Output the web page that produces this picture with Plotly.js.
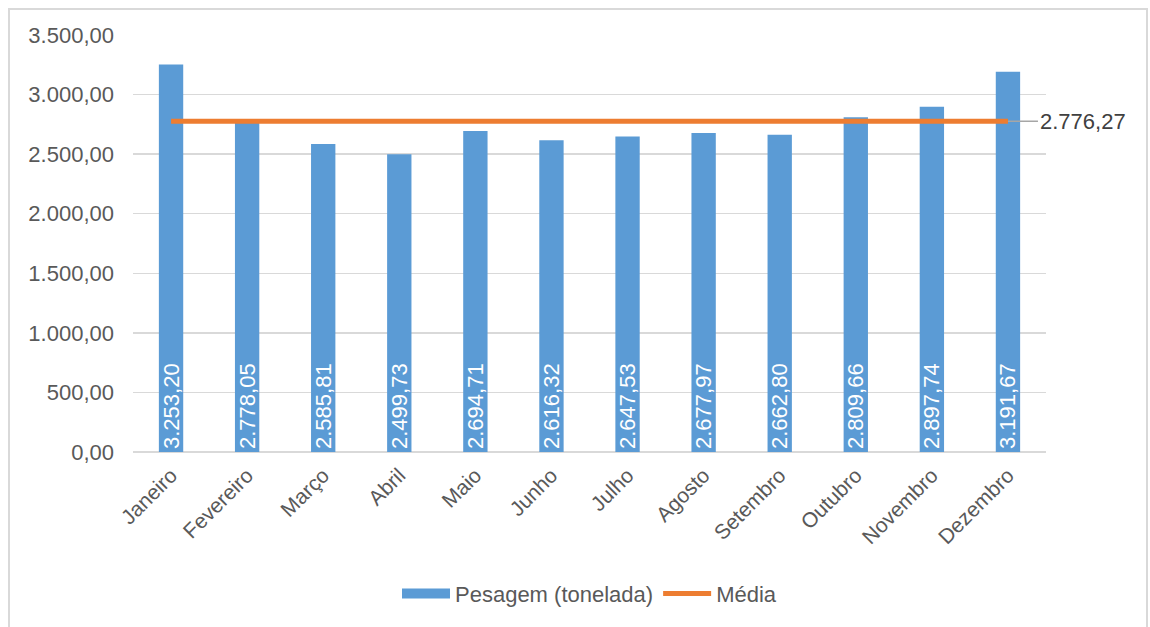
<!DOCTYPE html>
<html><head><meta charset="utf-8">
<script src="https://cdn.plot.ly/plotly-3.0.1.min.js"></script>
<style>html,body{margin:0;padding:0;background:#fff;}#wrap{position:relative;width:1150px;height:627px;}#chart{width:1150px;height:627px;}#frame{position:absolute;left:8px;top:8px;width:1140px;height:625px;border:2px solid #d9d9d9;pointer-events:none;box-sizing:border-box;}</style>
</head><body>
<div id="wrap"><div id="chart"></div><div id="frame"></div></div>
<script>
const months = ["Janeiro","Fevereiro","Março","Abril","Maio","Junho","Julho","Agosto","Setembro","Outubro","Novembro","Dezembro"];
const pesagem = [3253.20,2778.05,2585.81,2499.73,2694.71,2616.32,2647.53,2677.97,2662.80,2809.66,2897.74,3191.67];
const media = [2776.27,2776.27,2776.27,2776.27,2776.27,2776.27,2776.27,2776.27,2776.27,2776.27,2776.27,2776.27];
const mediaLabel = "2.776,27";
const yTicks = [0,500,1000,1500,2000,2500,3000,3500];

const font = "Liberation Sans, Arial, sans-serif";
const data = [
  {type:'bar', name:'Pesagem (tonelada)', x:months, y:pesagem, showlegend:false,
   marker:{color:'#5b9bd5'},
   texttemplate:'%{y:,.2f}', textposition:'inside', insidetextanchor:'start', textangle:-90, constraintext:'none',
   insidetextfont:{family:font, size:22, color:'#ffffff'}, hoverinfo:'x+y'},
  {type:'scatter', mode:'lines', name:'Pesagem (tonelada)', x:[months[0]], y:[null],
   line:{color:'#5b9bd5', width:11}, hoverinfo:'skip'},
  {type:'scatter', mode:'lines', name:'Média', x:months, y:media,
   line:{color:'#ed7d31', width:5}}
];
const layout = {
  width:1150, height:627,
  margin:{l:133, r:104, t:35, b:172},
  separators:',.',
  bargap:0.68,
  font:{family:font, color:'#595959', size:21},
  paper_bgcolor:'#ffffff', plot_bgcolor:'#ffffff',
  xaxis:{type:'category', range:[-0.5, 11.5], tickangle:-45, tickfont:{size:21, color:'#595959'}, ticklabelstandoff:6, showgrid:false, showline:false, ticks:'', automargin:false},
  yaxis:{range:[0,3500], tickvals:yTicks, tickformat:',.2f', tickfont:{size:22, color:'#595959'}, ticklabelstandoff:18,
         gridcolor:'#d9d9d9', gridwidth:1.5, zeroline:true, zerolinecolor:'#d9d9d9', zerolinewidth:1.5, showline:false, ticks:'', ticklen:0, automargin:false},
  showlegend:true,
  legend:{orientation:'h', x:0.5, xanchor:'center', y:-0.34, yanchor:'middle', font:{size:22, color:'#595959'}, itemwidth:48, tracegroupgap:0},
  annotations:[{x:months[months.length-1], y:media[media.length-1], xref:'x', yref:'y', text:mediaLabel,
    showarrow:true, arrowhead:0, arrowwidth:1.5, arrowcolor:'#a6a6a6', ax:30, ay:0, xanchor:'left', standoff:0,
    font:{size:22, color:'#404040'}}]
};
Plotly.newPlot('chart', data, layout, {displayModeBar:false, staticPlot:true});
</script>
</body></html>
